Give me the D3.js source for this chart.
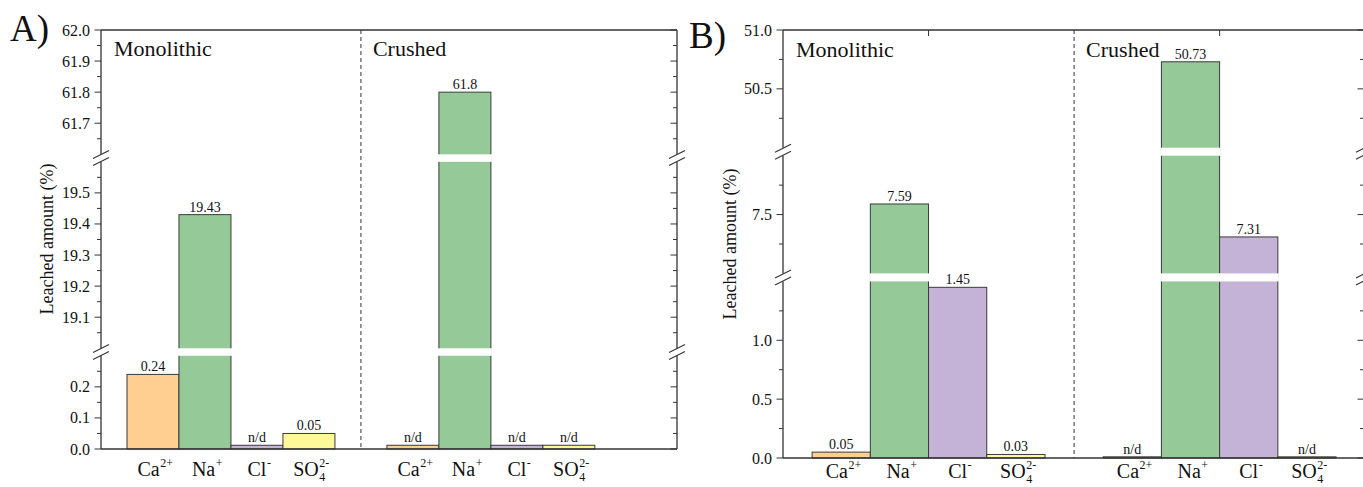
<!DOCTYPE html>
<html>
<head>
<meta charset="utf-8">
<script src="https://cdn.jsdelivr.net/npm/d3@7"></script>
<style>
  body { margin: 0; background: #fff; }
  text { font-family: "Liberation Serif", "Times New Roman", serif; fill: #111; }
</style>
</head>
<body>
<div id="chart"></div>
<script>
// ions and colours
var ions = ["Ca", "Na", "Cl", "SO4"];
var ionColors = ["#fecf91", "#95c998", "#c5b3d7", "#fdf99a"];
var ionText = [
  {base: "Ca", sup: "2+"},
  {base: "Na", sup: "+"},
  {base: "Cl", sup: "-"},
  {base: "SO", sup: "2-", sub: "4"}
];
var groups = ["Monolithic", "Crushed"];

// panel A values (n/d drawn as a thin bar)
var monoA = [0.24, 19.43, 0.012, 0.05];
var monoALabels = ["0.24", "19.43", "n/d", "0.05"];
var crushA = [0.012, 61.8, 0.012, 0.012];
var crushALabels = ["n/d", "61.8", "n/d", "n/d"];
var segmentsA = [[0, 0.3], [19.0, 19.6], [61.6, 62.0]];

// panel B values
var monoB = [0.05, 7.59, 1.45, 0.03];
var monoBLabels = ["0.05", "7.59", "1.45", "0.03"];
var crushB = [0.01, 50.73, 7.31, 0.01];
var crushBLabels = ["n/d", "50.73", "7.31", "n/d"];
var segmentsB = [[0, 1.5], [7, 8], [50, 51]];

var svg = d3.select("#chart").append("svg")
  .attr("width", 1363)
  .attr("height", 487);

// broken y scale: one linear scale per segment
function makeY(segs, top, bottom, gap) {
  var units = d3.sum(segs, s => s[1] - s[0]);
  var k = (bottom - top - gap * (segs.length - 1)) / units;
  var y0 = bottom;
  var scales = segs.map(s => {
    var h = (s[1] - s[0]) * k;
    var sc = d3.scaleLinear().domain(s).range([y0, y0 - h]);
    y0 -= h + gap;
    return sc;
  });
  var y = function(v) {
    for (var i = 0; i < scales.length; i++) {
      var d = scales[i].domain();
      if (v <= d[1]) return scales[i](Math.max(v, d[0]));
    }
    return scales[scales.length - 1](v);
  };
  y.scales = scales;
  return y;
}

function ionLabel(g, cx, y, t) {
  var txt = g.append("text").attr("y", y).style("font-size", "20px").text(t.base);
  var w = txt.node().getComputedTextLength();
  var sup = g.append("text").attr("y", y - 9).style("font-size", "12px").text(t.sup);
  var sw = sup.node().getComputedTextLength();
  var x0 = cx - (w + sw) / 2 + 2;
  txt.attr("x", x0);
  sup.attr("x", x0 + w + 0.5);
  if (t.sub) {
    g.append("text").attr("x", x0 + w + 0.5).attr("y", y + 5)
      .style("font-size", "12px").text(t.sub);
  }
}

function drawPanel(p) {
  var g = svg.append("g");
  var x = d3.scaleLinear().domain([0, p.slots]).range([p.left, p.right]);
  var y = makeY(p.segs, p.top, p.bottom, p.gap);
  var bw = x(1) - x(0);

  // bars
  var bars = [];
  p.series.forEach((s, gi) => {
    s.vals.forEach((v, i) => {
      bars.push({pos: gi * 5 + i + 1, v: v, lbl: s.labels[i], c: ionColors[i]});
    });
  });

  g.selectAll("rect.bar")
    .data(bars)
    .enter()
    .append("rect")
    .attr("class", "bar")
    .attr("x", d => x(d.pos - 0.5))
    .attr("width", bw)
    .attr("y", d => y(d.v))
    .attr("height", d => y(0) - y(d.v))
    .style("fill", d => d.c)
    .style("stroke", "#3a3a3a")
    .style("stroke-width", 1);

  // white stripes where a bar crosses a break
  for (var si = 0; si < y.scales.length - 1; si++) {
    var hi = y.scales[si].domain()[1];
    var lo = y.scales[si + 1].domain()[0];
    var yA = y.scales[si](hi), yB = y.scales[si + 1](lo);
    g.selectAll("rect.gap" + si)
      .data(bars.filter(d => d.v > hi))
      .enter()
      .append("rect")
      .attr("x", d => x(d.pos - 0.5) - 1)
      .attr("width", bw + 2)
      .attr("y", yB)
      .attr("height", yA - yB)
      .style("fill", "#fff");
  }

  // value labels
  g.selectAll("text.val")
    .data(bars)
    .enter()
    .append("text")
    .attr("x", d => x(d.pos))
    .attr("y", d => y(d.v) - 3)
    .attr("text-anchor", "middle")
    .style("font-size", "14px")
    .text(d => d.lbl);

  // frame: top and bottom lines
  var axisColor = "#333";
  g.append("line").attr("x1", p.left).attr("x2", p.right)
    .attr("y1", p.top).attr("y2", p.top)
    .style("stroke", axisColor).style("stroke-width", 1.3);
  g.append("line").attr("x1", p.left).attr("x2", p.right)
    .attr("y1", p.bottom).attr("y2", p.bottom)
    .style("stroke", axisColor).style("stroke-width", 1.3);

  // y axes, segment by segment
  y.scales.forEach((sc, i) => {
    var d = sc.domain();
    var ticks = d3.range(d[0], d[1] + 1e-9, p.minor).filter(v =>
      (v > d[0] + 1e-9 || i === 0) && (v < d[1] - 1e-9 || i === y.scales.length - 1));
    [p.left, p.right].forEach((ax, side) => {
      g.append("line").attr("x1", ax).attr("x2", ax)
        .attr("y1", sc.range()[0]).attr("y2", sc.range()[1])
        .style("stroke", axisColor).style("stroke-width", 1.3);
      ticks.forEach(v => {
        var major = Math.abs(v / p.major - Math.round(v / p.major)) < 1e-6;
        var len = major ? 6.5 : 4;
        g.append("line")
          .attr("x1", ax - len).attr("x2", ax)
          .attr("y1", sc(v)).attr("y2", sc(v))
          .style("stroke", axisColor).style("stroke-width", 1);
        if (major && side === 0) {
          g.append("text").attr("x", ax - 11).attr("y", sc(v) + 5.5)
            .attr("text-anchor", "end").style("font-size", "16px")
            .text(d3.format(".1f")(v));
        }
      });
    });
  });

  // break marks
  for (var bi = 0; bi < y.scales.length - 1; bi++) {
    var c = (y.scales[bi].range()[1] + y.scales[bi + 1].range()[0]) / 2;
    [p.left, p.right].forEach(ax => {
      [-3.5, 3.5].forEach(off => {
        g.append("line")
          .attr("x1", ax - 8).attr("y1", c + off + 4)
          .attr("x2", ax + 8).attr("y2", c + off - 4)
          .style("stroke", axisColor).style("stroke-width", 1.1);
      });
    });
  }

  // top ticks (panel B only)
  p.topTicks.forEach(t => {
    g.append("line").attr("x1", x(t)).attr("x2", x(t))
      .attr("y1", p.top).attr("y2", p.top + 6)
      .style("stroke", axisColor).style("stroke-width", 1);
  });

  // divider
  g.append("line").attr("x1", x(5)).attr("x2", x(5))
    .attr("y1", p.top).attr("y2", p.bottom)
    .style("stroke", "#333").style("stroke-width", 1)
    .style("stroke-dasharray", "4,3");

  // group names
  g.append("text").attr("x", p.left + 13).attr("y", p.nameY)
    .style("font-size", "22px").text(groups[0]);
  g.append("text").attr("x", x(5) + 12).attr("y", p.nameY)
    .style("font-size", "22px").text(groups[1]);

  // ion tick labels
  [0, 1].forEach(gi => {
    ionText.forEach((t, i) => ionLabel(g, x(gi * 5 + i + 1), p.labelY, t));
  });

  // y title
  g.append("text")
    .attr("transform", "translate(" + p.titleX + "," + p.titleY + ") rotate(-90)")
    .attr("text-anchor", "middle")
    .style("font-size", "18px")
    .text("Leached amount (%)");

  // panel letter
  g.append("text").attr("x", p.letterX).attr("y", p.letterY)
    .style("font-size", "37px").text(p.letter);
}

drawPanel({
  letter: "A)", letterX: 10, letterY: 41,
  left: 101, right: 677, top: 30, bottom: 449, gap: 7.5, slots: 11.08,
  segs: segmentsA, major: 0.1, minor: 0.05,
  series: [{vals: monoA, labels: monoALabels}, {vals: crushA, labels: crushALabels}],
  topTicks: [], titleX: 53, titleY: 239, nameY: 56, labelY: 476
});

drawPanel({
  letter: "B)", letterX: 689, letterY: 48,
  left: 783, right: 1364, top: 30, bottom: 458, gap: 8, slots: 9.98,
  segs: segmentsB, major: 0.5, minor: 0.25,
  series: [{vals: monoB, labels: monoBLabels}, {vals: crushB, labels: crushBLabels}],
  topTicks: [2.5, 7.5], titleX: 736, titleY: 244, nameY: 57, labelY: 478
});
</script>
</body>
</html>
